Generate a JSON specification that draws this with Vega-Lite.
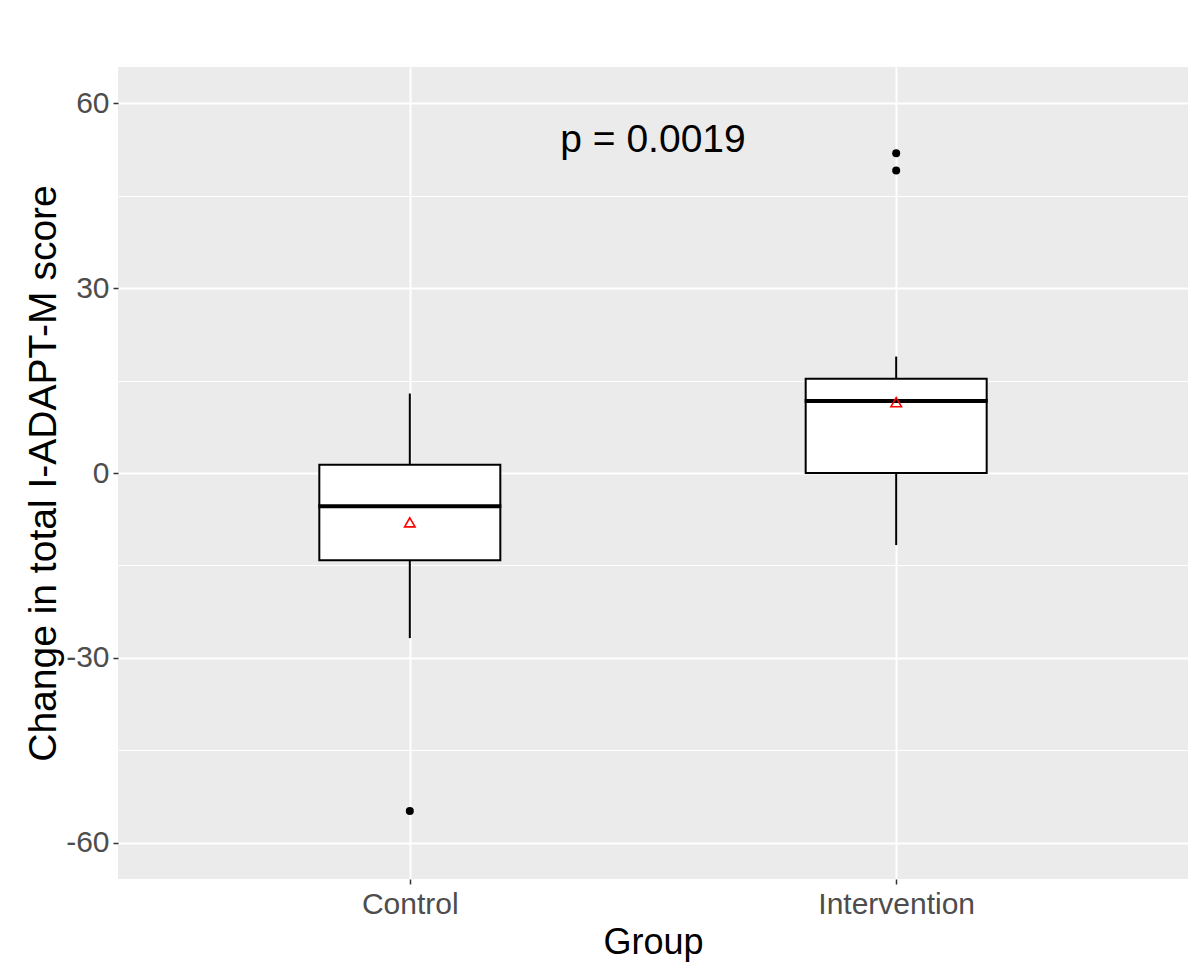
{
  "$schema": "https://vega.github.io/schema/vega-lite/v6.json",
  "width": 1070,
  "height": 812,
  "autosize": {"type": "none"},
  "padding": {"left": 118, "top": 67, "right": 0, "bottom": 84},
  "background": "white",
  "config": {
    "view": {"fill": "#EBEBEB", "stroke": null},
    "font": "Liberation Sans",
    "axis": {"labelFont": "Liberation Sans", "titleFont": "Liberation Sans", "titleFontWeight": "normal"}
  },
  "datasets": {
    "summary": [
      {"group": "Control", "lower": -26.8, "q1": -14.15, "median": -5.4, "q3": 1.35, "upper": 12.9, "mean": -8.0},
      {"group": "Intervention", "lower": -11.7, "q1": 0.0, "median": 11.7, "q3": 15.3, "upper": 18.9, "mean": 11.5}
    ],
    "outliers": [
      {"group": "Control", "value": -54.85},
      {"group": "Intervention", "value": 51.9},
      {"group": "Intervention", "value": 49.1}
    ],
    "annotation": [
      {"label": "p = 0.0019", "y": 52.1}
    ]
  },
  "layer": [
    {
      "data": {"name": "summary"},
      "mark": {"type": "rule", "color": "#000000", "strokeWidth": 2},
      "encoding": {
        "x": {
          "field": "group", "type": "nominal",
          "scale": {"type": "point", "padding": 0.6},
          "axis": {
            "title": "Group", "labelAngle": 0, "labelFontSize": 30, "labelColor": "#4D4D4D",
            "labelPadding": 5, "tickSize": 5, "tickColor": "#333333", "tickWidth": 1.5,
            "domain": false, "grid": true, "gridColor": "#FFFFFF", "gridWidth": 2,
            "titleFontSize": 36, "titleColor": "#000000", "titlePadding": 6
          }
        },
        "y": {
          "field": "lower", "type": "quantitative",
          "title": "Change in total I-ADAPT-M score",
          "scale": {"domain": [-65.9, 65.9], "nice": false, "zero": false},
          "axis": {
            "values": [-60, -45, -30, -15, 0, 15, 30, 45, 60],
            "labelExpr": "datum.value % 30 === 0 ? '' + datum.value : ''",
            "labelFontSize": 30, "labelColor": "#4D4D4D", "labelPadding": 4,
            "tickSize": 5, "tickWidth": 1.5,
            "tickColor": {"condition": {"test": "datum.value % 30 !== 0", "value": "transparent"}, "value": "#333333"},
            "domain": false, "grid": true, "gridColor": "#FFFFFF",
            "gridWidth": {"condition": {"test": "datum.value % 30 !== 0", "value": 1.2}, "value": 2},
            "titleFontSize": 39, "titleColor": "#000000", "titlePadding": 2
          }
        },
        "y2": {"field": "upper"}
      }
    },
    {
      "data": {"name": "summary"},
      "mark": {"type": "bar", "fill": "#FFFFFF", "stroke": "#000000", "strokeWidth": 2, "size": 181},
      "encoding": {
        "x": {"field": "group", "type": "nominal"},
        "y": {"field": "q1", "type": "quantitative", "title": "Change in total I-ADAPT-M score"},
        "y2": {"field": "q3"}
      }
    },
    {
      "data": {"name": "summary"},
      "mark": {"type": "tick", "color": "#000000", "size": 183, "thickness": 4, "opacity": 1},
      "encoding": {
        "x": {"field": "group", "type": "nominal"},
        "y": {"field": "median", "type": "quantitative", "title": "Change in total I-ADAPT-M score"}
      }
    },
    {
      "data": {"name": "outliers"},
      "mark": {"type": "point", "filled": true, "color": "#000000", "size": 64, "opacity": 1},
      "encoding": {
        "x": {"field": "group", "type": "nominal"},
        "y": {"field": "value", "type": "quantitative", "title": "Change in total I-ADAPT-M score"}
      }
    },
    {
      "data": {"name": "summary"},
      "mark": {"type": "point", "shape": "triangle-up", "filled": false, "stroke": "#FF0000", "strokeWidth": 1.6, "size": 110, "opacity": 1},
      "encoding": {
        "x": {"field": "group", "type": "nominal"},
        "y": {"field": "mean", "type": "quantitative", "title": "Change in total I-ADAPT-M score"}
      }
    },
    {
      "data": {"name": "annotation"},
      "mark": {"type": "text", "fontSize": 39, "color": "#000000", "align": "center", "baseline": "alphabetic", "font": "Liberation Sans"},
      "encoding": {
        "y": {"field": "y", "type": "quantitative", "title": "Change in total I-ADAPT-M score"},
        "text": {"field": "label"}
      }
    }
  ]
}
